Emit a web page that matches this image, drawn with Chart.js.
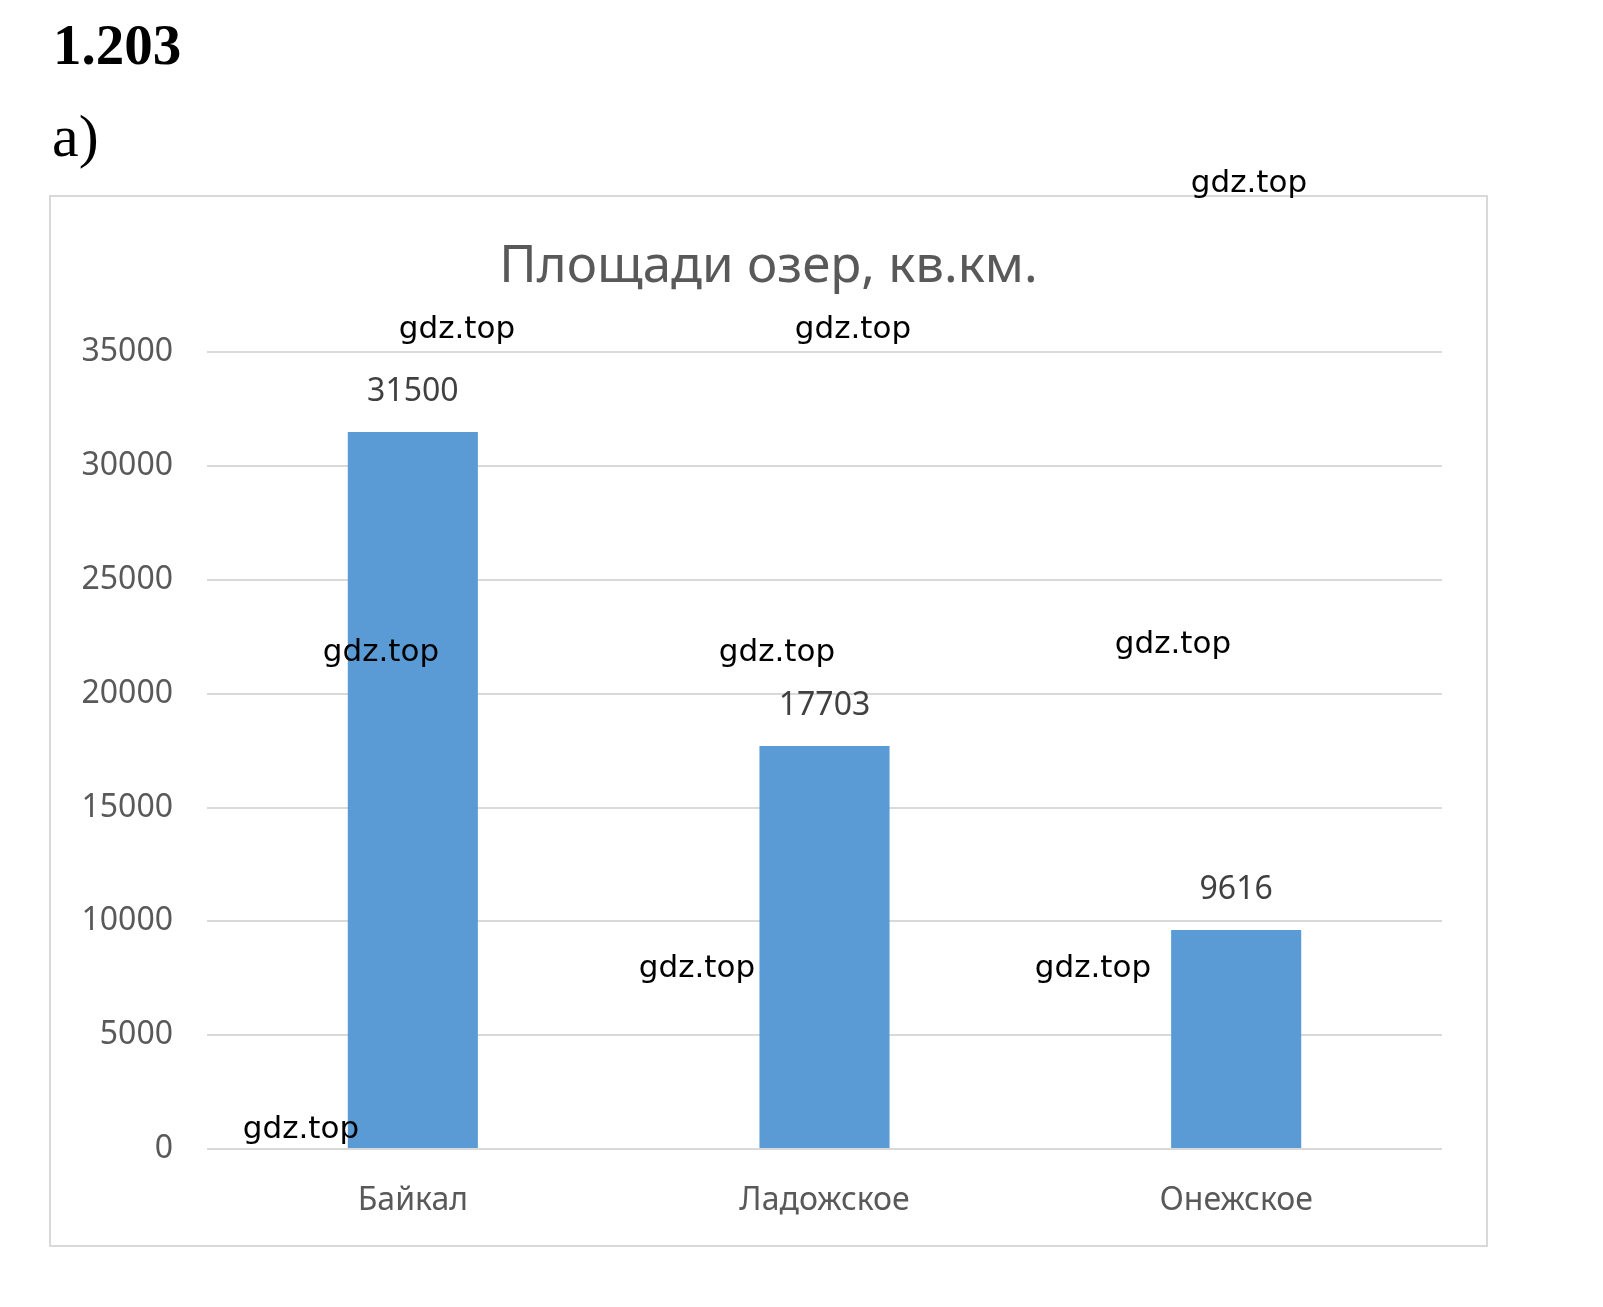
<!DOCTYPE html>
<html>
<head>
<meta charset="utf-8">
<script src="https://cdn.jsdelivr.net/npm/chart.js@4.4.1/dist/chart.umd.min.js"></script>
<style>
  body { margin: 0; background: #fff; width: 1603px; height: 1307px; position: relative; overflow: hidden; }
  .hdr { position: absolute; font-family: "Liberation Serif", serif; color: #000; line-height: 1; white-space: nowrap; }
  #box { position: absolute; left: 49px; top: 195px; width: 1439px; height: 1052px; border: 2px solid #d9d9d9; box-sizing: border-box; }
  #box canvas { display: block; }
  .wm { position: absolute; font-family: "DejaVu Sans", sans-serif; font-size: 31px; line-height: 1; color: #000;
        transform: translate(-50%, -50%); white-space: nowrap; z-index: 5; }
</style>
</head>
<body>
<div class="hdr" style="left:53px; top:16px; font-size:57px; font-weight:bold;">1.203</div>
<div class="hdr" style="left:52px; top:106px; font-size:60px;">a)</div>
<div id="box"><canvas id="chart" width="1435" height="1048"></canvas></div>

<script>
const lakes = ['Байкал', 'Ладожское', 'Онежское']
const areas = [31500, 17703, 9616]
const chartTitle = 'Площади озер, кв.км.'
const watermark = 'gdz.top'
const wmSpots = [[1249, 181], [457, 327], [853, 327], [381, 650], [777, 650], [1173, 642], [697, 966], [1093, 966], [301, 1127]]

wmSpots.forEach(p => {
    const d = document.createElement('div')
    d.className = 'wm'
    d.textContent = watermark
    d.style.left = p[0] + 'px'
    d.style.top = p[1] + 'px'
    document.body.appendChild(d)
})

// value above every bar
const valueLabels = {
    id: 'valueLabels',
    afterDatasetsDraw(chart) {
        const ctx = chart.ctx
        const meta = chart.getDatasetMeta(0)
        ctx.save()
        ctx.font = '32px "Noto Sans"'
        ctx.fillStyle = '#404040'
        ctx.textAlign = 'center'
        ctx.textBaseline = 'middle'
        meta.data.forEach((bar, i) => {
            ctx.fillText(String(chart.data.datasets[0].data[i]), bar.x, bar.y - 40)
        })
        ctx.restore()
    }
}

new Chart(document.getElementById('chart'), {
    type: 'bar',
    data: {
        labels: lakes,
        datasets: [{
            data: areas,
            backgroundColor: '#5b9bd5',
            borderWidth: 0,
            categoryPercentage: 1,
            barPercentage: 0.316
        }]
    },
    options: {
        responsive: false,
        animation: false,
        devicePixelRatio: 1,
        layout: { padding: 0 },
        plugins: {
            legend: { display: false },
            tooltip: { enabled: false },
            title: {
                display: true,
                text: chartTitle,
                color: '#595959',
                font: { family: 'Noto Sans', size: 51, weight: 'normal' },
                padding: { top: 40, bottom: 54 }
            }
        },
        scales: {
            x: {
                grid: { display: false, drawTicks: false },
                border: { display: false },
                ticks: { color: '#595959', font: { family: 'Noto Sans', size: 32 }, padding: 33 },
                afterFit: s => { s.height = 96 }
            },
            y: {
                min: 0,
                max: 35000,
                ticks: {
                    stepSize: 5000,
                    color: '#595959',
                    font: { family: 'Noto Sans', size: 32 },
                    padding: 34,
                    callback: v => String(v)
                },
                grid: { color: '#d9d9d9', lineWidth: 2, drawTicks: false },
                border: { display: false },
                afterFit: s => { s.width = 156 }
            },
            // empty right-hand margin so the plot sits where the reference has it
            yRight: {
                position: 'right',
                grid: { display: false, drawTicks: false },
                border: { display: false },
                ticks: { display: false },
                afterFit: s => { s.width = 44 }
            }
        }
    },
    plugins: [valueLabels]
});
</script>
</body>
</html>
